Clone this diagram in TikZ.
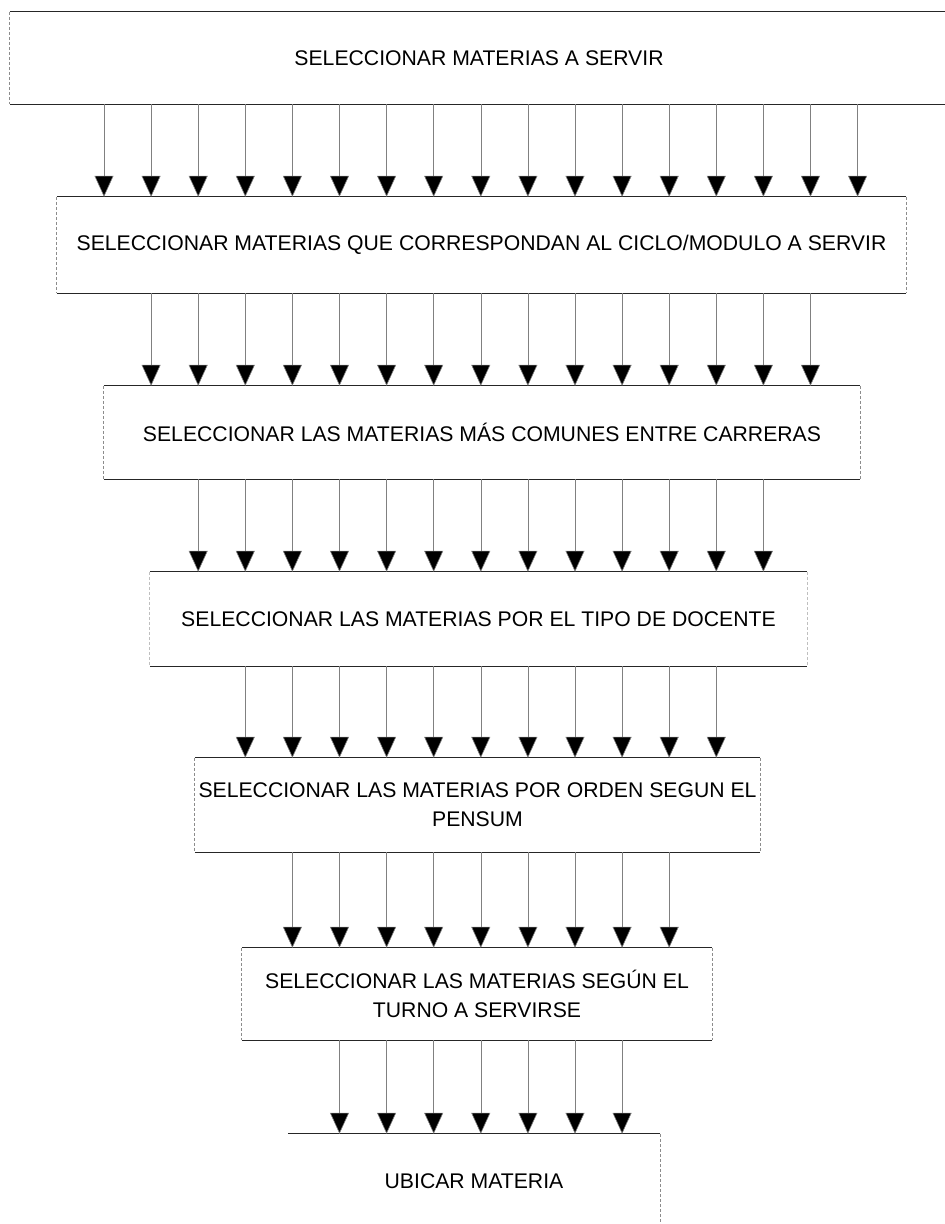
\documentclass[tikz,border=0pt]{standalone}
\usepackage{fontspec}
\setmainfont{Liberation Sans}
\usetikzlibrary{arrows.meta}
\tikzset{
  etapa/.style={rectangle,inner sep=0pt,align=center,
                font=\fontsize{21.2}{29}\selectfont},
  borde/.style={draw=black!85,line width=1.1pt},
  lado/.style={draw=black!45,line width=.7pt,densely dashed},
  flecha/.style={draw=black!50,line width=.6pt,
                 -{Triangle[length=21pt,width=19pt,fill=black]}},
}
\begin{document}
\begin{tikzpicture}[x=1pt,y=-1pt]
  \useasboundingbox (0,0) rectangle (945,1224);
  % etapas del proceso
  \node[etapa,minimum width=938,minimum height=92] (b1) at (479,58) {SELECCIONAR MATERIAS A SERVIR};
  \node[etapa,minimum width=849,minimum height=96] (b2) at (481.5,245) {SELECCIONAR MATERIAS QUE CORRESPONDAN AL CICLO/MODULO A SERVIR};
  \node[etapa,minimum width=756,minimum height=93] (b3) at (482,432.5) {SELECCIONAR LAS MATERIAS MÁS COMUNES ENTRE CARRERAS};
  \node[etapa,minimum width=657,minimum height=94] (b4) at (478.5,619) {SELECCIONAR LAS MATERIAS POR EL TIPO DE DOCENTE};
  \node[etapa,minimum width=565,minimum height=94] (b5) at (477.5,805) {SELECCIONAR LAS MATERIAS POR ORDEN SEGUN EL\\PENSUM};
  \node[etapa,minimum width=470,minimum height=92] (b6) at (477,994) {SELECCIONAR LAS MATERIAS SEGÚN EL\\TURNO A SERVIRSE};
  \node[etapa,minimum width=372,minimum height=94] (b7) at (474,1181) {UBICAR MATERIA};

  % bordes
  \foreach \b in {b1,b2,b3,b4,b5,b6} {
    \draw[borde] (\b.north west) -- (\b.north east) (\b.south west) -- (\b.south east);
  }
  \foreach \b in {b1,b2,b3,b5,b6} {
    \draw[lado] (\b.north west) -- (\b.south west) (\b.north east) -- (\b.south east);
  }
  \draw[lado,draw=black!25] (b4.north west) -- (b4.south west) (b4.north east) -- (b4.south east);
  \draw[borde] (b7.north west) -- (b7.north east);
  \draw[lado] (b7.north east) -- (b7.south east);

  % flechas entre etapas
  \foreach \r/\n in {1/2,2/3,3/4,4/5,5/6,6/7} {
    \pgfmathtruncatemacro\desde{\r-1}
    \pgfmathtruncatemacro\hasta{17-\r}
    \foreach \k in {\desde,...,\hasta} {
      \pgfmathsetmacro\cx{104+47.1*\k}
      \draw[flecha] (\cx,0 |- b\r.south) -- (\cx,0 |- b\n.north);
    }
  }
\end{tikzpicture}
\end{document}
